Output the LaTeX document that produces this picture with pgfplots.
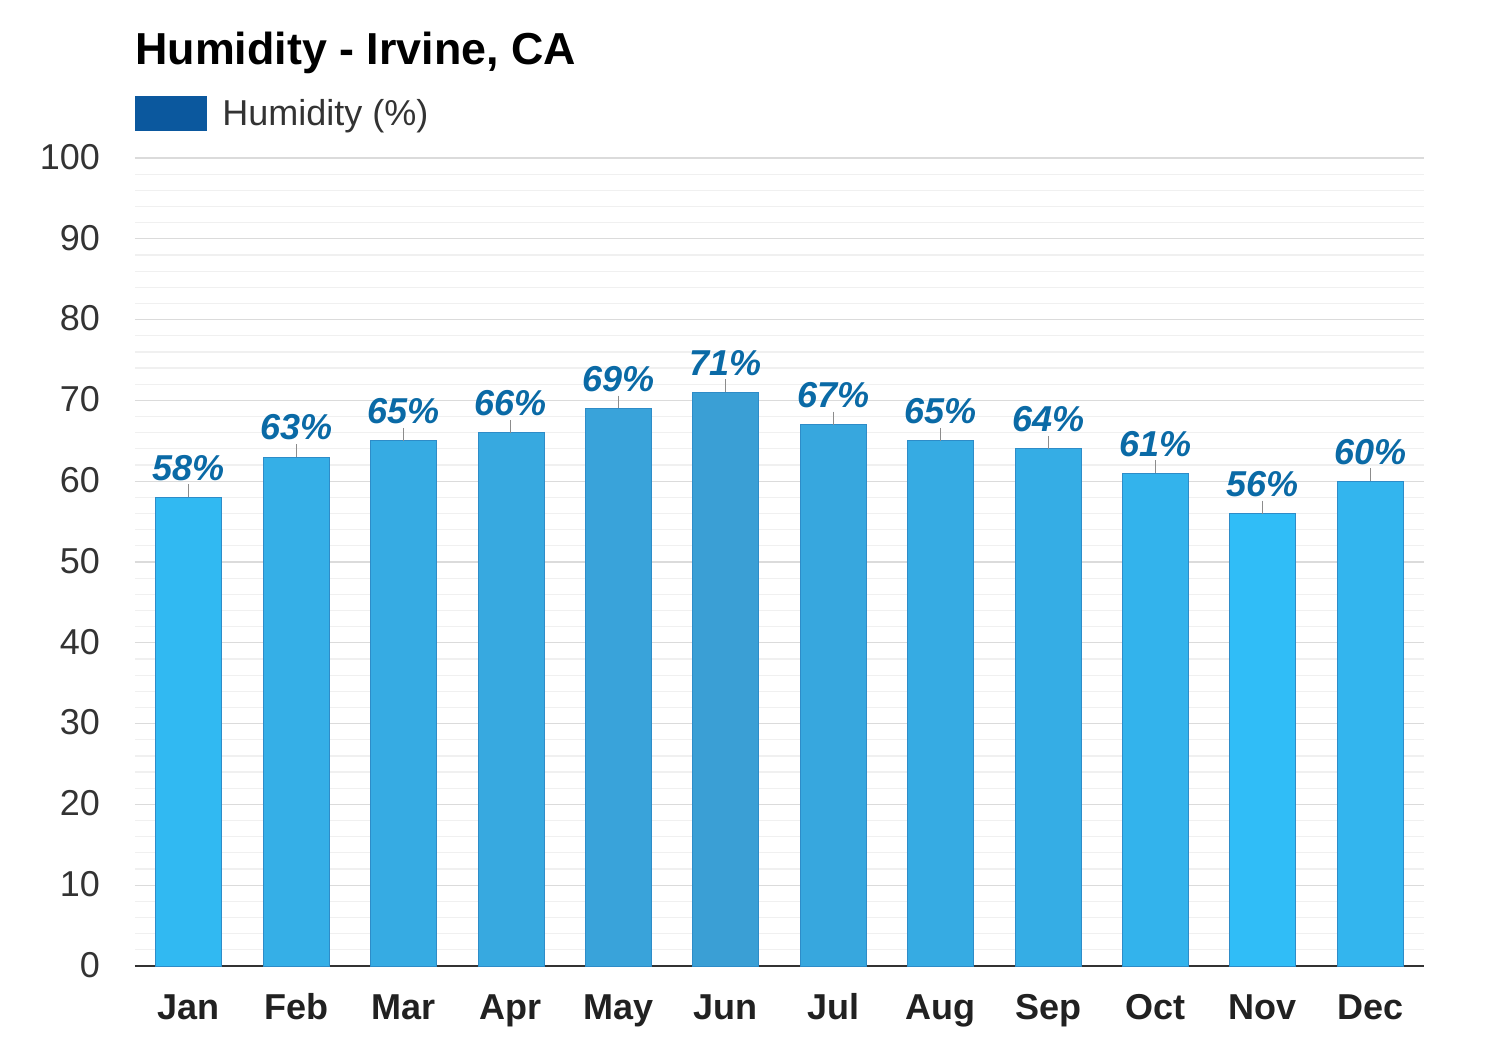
\documentclass[border=0pt]{standalone}
\usepackage{pgfplots}
\pgfplotsset{compat=1.18}
\usepackage{fontspec}
\setmainfont{Liberation Sans}
\definecolor{lbl}{RGB}{10,106,166}
\definecolor{legblue}{RGB}{11,88,158}
\definecolor{edge}{RGB}{46,140,200}
\definecolor{tickc}{RGB}{51,51,51}
\begin{document}
\begin{tikzpicture}[x=1pt,y=1pt]
\path[use as bounding box] (0,0) rectangle (750,525);
\node[anchor=base west,inner sep=0,font=\bfseries\fontsize{22.4}{26}\selectfont,text=black] at (67.5,492.5) {Humidity - Irvine, CA};
\fill[legblue] (67.5,459.5) rectangle (103.5,477);
\node[anchor=base west,inner sep=0,font=\fontsize{18}{21}\selectfont,text=tickc] at (111,462) {Humidity (\%)};
\begin{axis}[
  at={(94.35pt,42pt)}, anchor=origin,
  scale only axis, width=644.5pt, height=404pt,
  xmin=-0.5, xmax=11.5, ymin=0, ymax=100,
  axis x line*=bottom, axis y line*=left,
  x axis line style={tickc,line width=0.8pt,-},
  y axis line style={draw=none},
  xtick={0,...,11},
  xticklabels={Jan,Feb,Mar,Apr,May,Jun,Jul,Aug,Sep,Oct,Nov,Dec},
  typeset ticklabels with strut,
  x tick label style={font=\bfseries\fontsize{18}{21}\selectfont,text=black!87,yshift=-4pt},
  major x tick style={draw=none},
  ytick={0,10,...,100},
  minor ytick={2,4,...,98},
  ymajorgrids, yminorgrids,
  major grid style={draw=black!14,line width=0.6pt},
  minor grid style={draw=black!6,line width=0.6pt},
  y tick label style={font=\fontsize{18}{21}\selectfont,text=tickc,xshift=-14pt,yshift=-1.5pt},
  ytick style={draw=none},
  minor tick style={draw=none},
  /pgf/number format/assume math mode=true,
  ybar, bar width=33pt, bar shift=0pt,
  nodes near coords={\pgfmathprintnumber{\pgfplotspointmeta}\%},
  every node near coord/.append style={font=\bfseries\itshape\fontsize{18}{21}\selectfont,text=lbl,anchor=base,yshift=8.5pt,inner sep=0pt},
  error bars/y dir=plus, error bars/y fixed=1.6,
  error bars/error mark=none,
  error bars/error bar style={draw=black!45,line width=0.5pt},
  clip=false,
]
\addplot[draw=edge,fill={rgb,255:red,49;green,185;blue,242}] coordinates {(0,58)};
\addplot[draw=edge,fill={rgb,255:red,53;green,175;blue,231}] coordinates {(1,63)};
\addplot[draw=edge,fill={rgb,255:red,54;green,171;blue,227}] coordinates {(2,65)};
\addplot[draw=edge,fill={rgb,255:red,55;green,169;blue,224}] coordinates {(3,66)};
\addplot[draw=edge,fill={rgb,255:red,57;green,163;blue,218}] coordinates {(4,69)};
\addplot[draw=edge,fill={rgb,255:red,58;green,159;blue,213}] coordinates {(5,71)};
\addplot[draw=edge,fill={rgb,255:red,55;green,167;blue,222}] coordinates {(6,67)};
\addplot[draw=edge,fill={rgb,255:red,54;green,171;blue,227}] coordinates {(7,65)};
\addplot[draw=edge,fill={rgb,255:red,53;green,173;blue,229}] coordinates {(8,64)};
\addplot[draw=edge,fill={rgb,255:red,51;green,179;blue,236}] coordinates {(9,61)};
\addplot[draw=edge,fill={rgb,255:red,48;green,189;blue,247}] coordinates {(10,56)};
\addplot[draw=edge,fill={rgb,255:red,51;green,181;blue,238}] coordinates {(11,60)};
\end{axis}
\end{tikzpicture}
\end{document}
